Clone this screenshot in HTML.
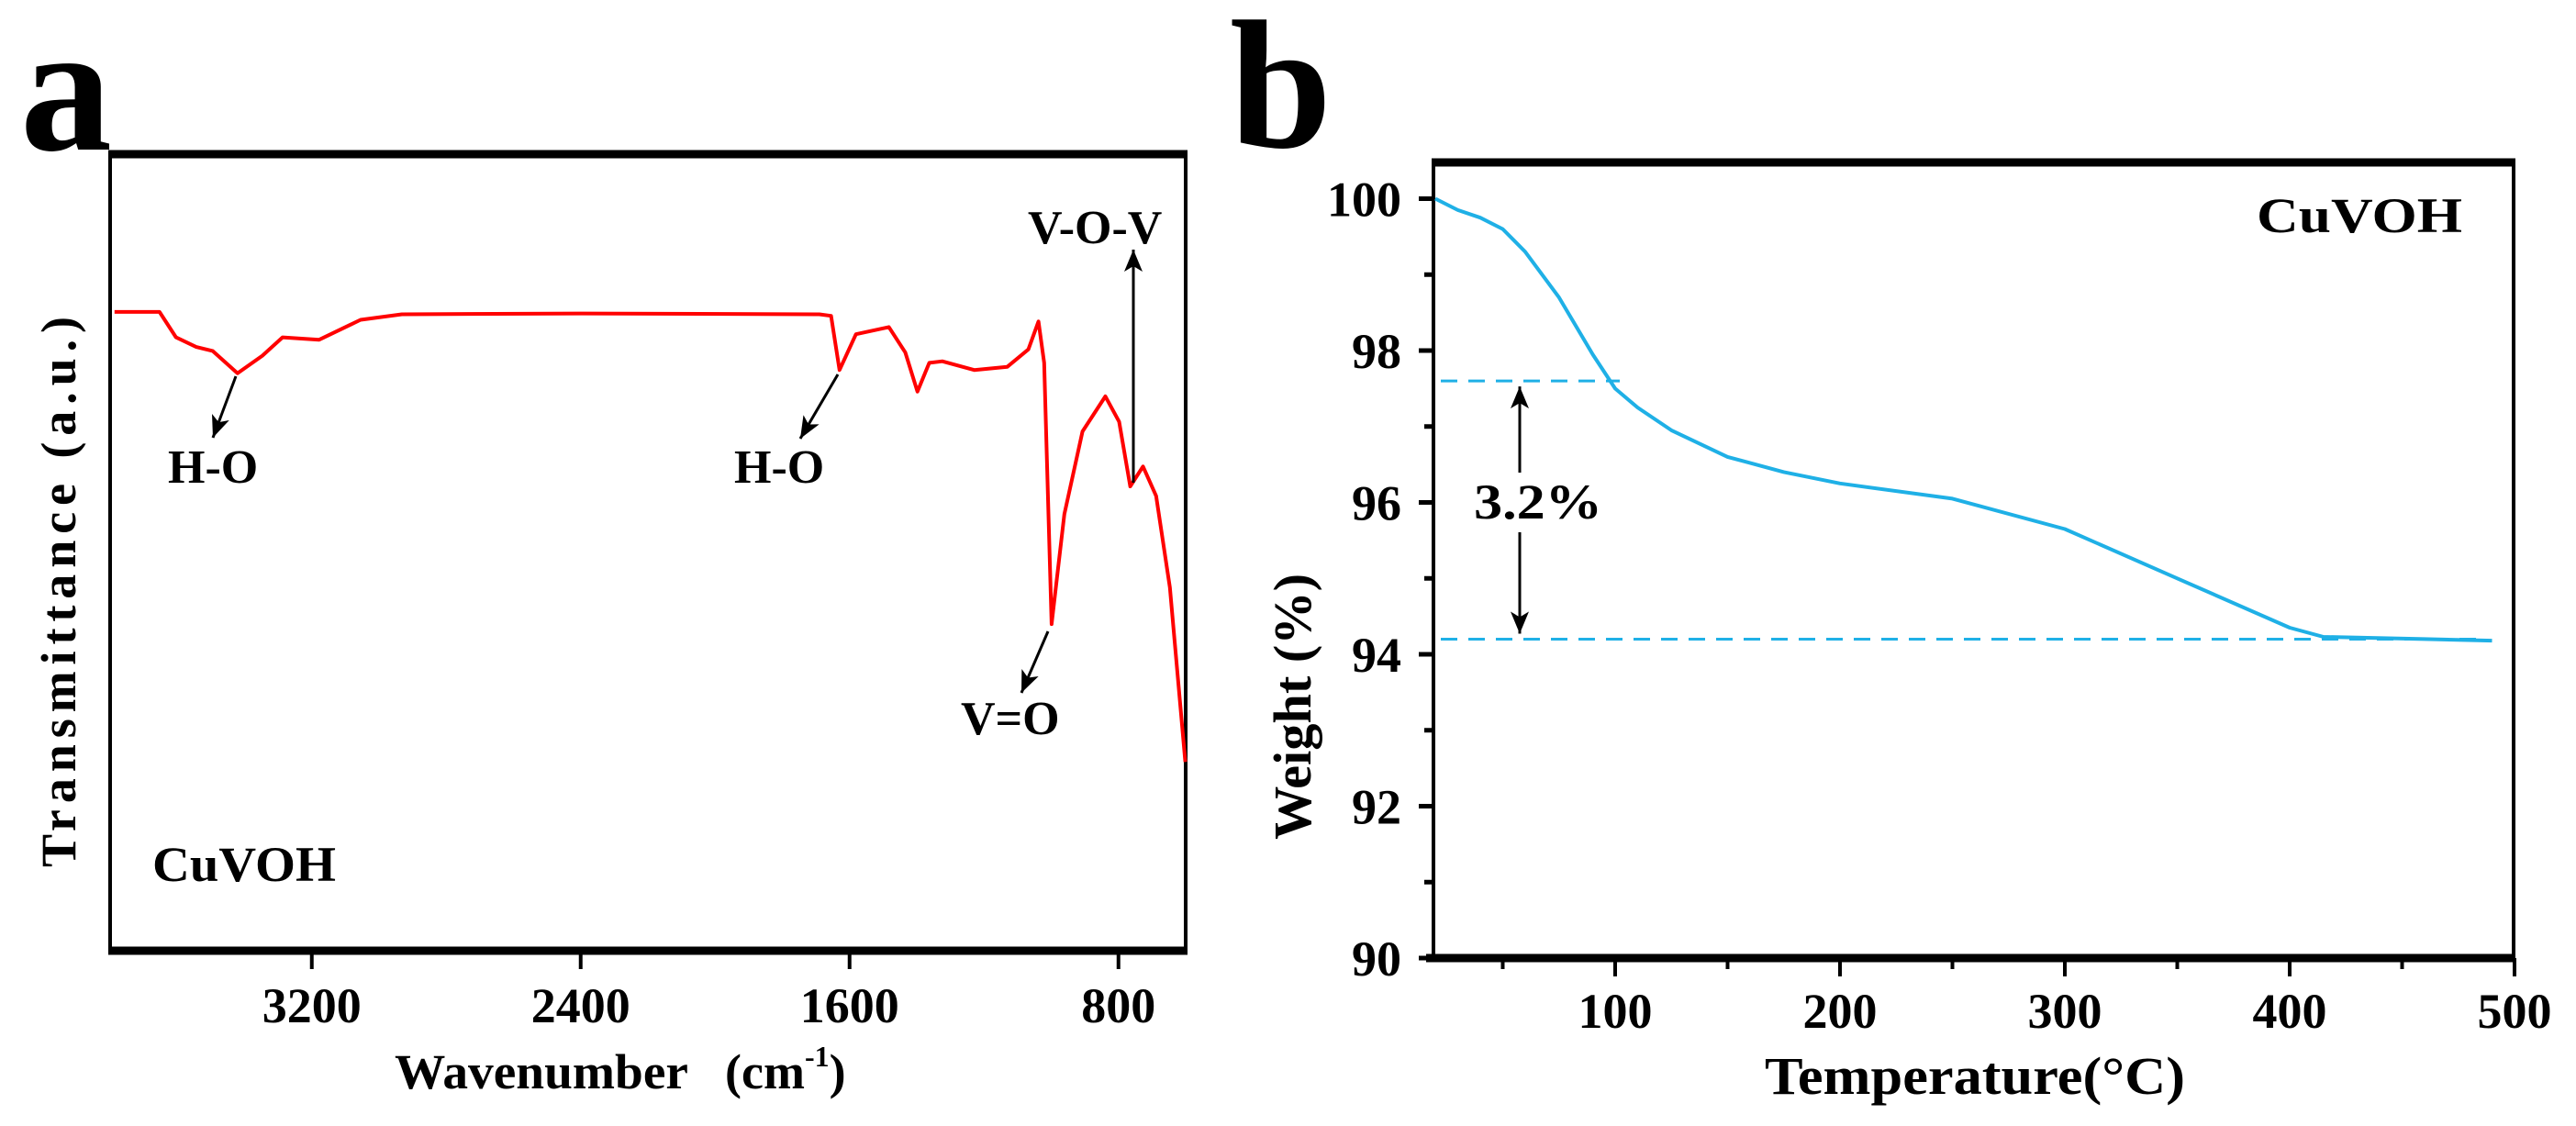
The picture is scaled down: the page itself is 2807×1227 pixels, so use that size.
<!DOCTYPE html>
<html><head><meta charset="utf-8"><style>
html,body{margin:0;padding:0;background:#fff}
svg{display:block}
text{font-family:"Liberation Serif",serif;font-weight:bold;fill:#000}
</style></head><body>
<svg id="fig" width="2807" height="1227" viewBox="0 0 2807 1227" xmlns="http://www.w3.org/2000/svg">
<defs>
<marker id="ahb" markerWidth="24" markerHeight="40" refX="24" refY="10" orient="auto" markerUnits="userSpaceOnUse"><path d="M0,0 L24,10 L0,20 L6,10 z" fill="#000"/></marker>
</defs>
<g id="pa"></g>
<g id="pb"></g>
</svg>
<script>
// Panel a (FTIR)
const irWavenumbers=[3787,3653,3604,3544,3495,3421,3347,3287,3178,3055,2932,2400,1690,1655,1630,1581,1483,1434,1398,1363,1324,1229,1131,1068,1038,1021,999,961,907,839,798,765,727,688,647,601];
const irTransmittance=[80.2,80.2,77.0,75.8,75.3,72.5,74.7,77.0,76.7,79.2,79.9,80.0,79.9,79.7,72.9,77.4,78.3,75.1,70.2,73.8,74.0,72.9,73.3,75.5,79.0,73.8,41.0,54.8,65.2,69.6,66.4,58.3,60.8,57.1,45.6,23.7];
const irTicks=[3200,2400,1600,800];
// Panel b (TGA)
const tgaTemps=[20,30,40,50,60,75,90,100,110,125,150,175,200,250,300,350,400,415,430,460,490];
const tgaWeights=[100,99.85,99.75,99.6,99.3,98.7,97.95,97.5,97.25,96.95,96.6,96.4,96.25,96.05,95.65,95.0,94.35,94.23,94.22,94.2,94.18];
const tgaXTicks=[100,200,300,400,500];
const tgaYTicks=[90,92,94,96,98,100];
const lossLevels=[97.6,94.2];

const NS='http://www.w3.org/2000/svg';
function mk(parent,tag,attrs,txt){const e=document.createElementNS(NS,tag);for(const k in attrs)e.setAttribute(k,attrs[k]);if(txt!==undefined)e.textContent=txt;parent.appendChild(e);return e;}

// ---- Panel A ----
const pa=document.getElementById('pa');
const ax={l:120,r:1292,t:168,b:1036};
const xa=w=>ax.l+(3800-w)/(3800-600)*(ax.r-ax.l);
const ya=v=>ax.b-v/100*(ax.b-ax.t);
let t;
t=mk(pa,'text',{x:22,y:163,'font-size':200});t.textContent='a';


let r=mk(pa,'rect',{x:ax.l,y:ax.t,width:ax.r-ax.l,height:ax.b-ax.t,fill:'none',stroke:'#000','stroke-width':4});


let l=mk(pa,'line',{x1:ax.l-2,x2:ax.r+2,y1:ax.t,y2:ax.t,stroke:'#000','stroke-width':9});


l=mk(pa,'line',{x1:ax.l-2,x2:ax.r+2,y1:ax.b,y2:ax.b,stroke:'#000','stroke-width':9});


irTicks.forEach(w=>{
  const x=xa(w);
  const tk=mk(pa,'line',{x1:x,x2:x,y1:ax.b,y2:ax.b+20,stroke:'#000','stroke-width':4});
  
  
  const tl=mk(pa,'text',{x:x,y:1114,'font-size':54,'text-anchor':'middle'},String(w));
  
  
});
t=mk(pa,'text',{x:430,y:1186,'font-size':54,textLength:320,lengthAdjust:'spacingAndGlyphs'},'Wavenumber');


t=mk(pa,'text',{x:790,y:1186,'font-size':54});
t.innerHTML='(cm<tspan font-size="32" dy="-24">-1</tspan><tspan dy="24">)</tspan>';


t=mk(pa,'text',{x:0,y:0,'font-size':54,transform:'translate(82,645) rotate(-90)','text-anchor':'middle',textLength:600,lengthAdjust:'spacing'},'Transmittance (a.u.)');


let d=irWavenumbers.map((w,i)=>(i?'L':'M')+xa(w).toFixed(1)+','+ya(irTransmittance[i]).toFixed(1)).join(' ');
let p=mk(pa,'path',{d:d,fill:'none',stroke:'#ff0000','stroke-width':4,'stroke-linejoin':'round'});


t=mk(pa,'text',{x:166,y:960,'font-size':54,textLength:200,lengthAdjust:'spacingAndGlyphs'},'CuVOH');


function arrow(parent,x1,y1,x2,y2,name){const a=mk(parent,'line',{x1:x1,y1:y1,x2:x2,y2:y2,stroke:'#000','stroke-width':3,'marker-end':'url(#ahb)'});return a;}
arrow(pa,257,410,232,477,'arrow-h-o-1');
t=mk(pa,'text',{x:183,y:526,'font-size':52},'H-O');


arrow(pa,913,408,872,478,'arrow-h-o-2');
t=mk(pa,'text',{x:800,y:526,'font-size':52},'H-O');


arrow(pa,1142,688,1113,755,'arrow-v-o');
t=mk(pa,'text',{x:1047,y:800,'font-size':52},'V=O');


arrow(pa,1235,526,1235,272,'arrow-v-o-v');
t=mk(pa,'text',{x:1120,y:265,'font-size':52},'V-O-V');



// ---- Panel B ----
const pb=document.getElementById('pb');
const bx={l:1562,r:2739,t:177,b:1044};
const xb=T=>1515+T*2.45;
const yb=w=>1044-(w-90)*82.75;
t=mk(pb,'text',{x:1340,y:160,'font-size':200},'b');


r=mk(pb,'rect',{x:bx.l,y:bx.t,width:bx.r-bx.l,height:bx.b-bx.t,fill:'none',stroke:'#000','stroke-width':4});


l=mk(pb,'line',{x1:bx.l-2,x2:bx.r+2,y1:bx.t,y2:bx.t,stroke:'#000','stroke-width':9});


l=mk(pb,'line',{x1:bx.l-8,x2:bx.r+2,y1:bx.b,y2:bx.b,stroke:'#000','stroke-width':9});


for(let T=50;T<=500;T+=50){
  const x=xb(T);const maj=T%100===0;
  const tk=mk(pb,'line',{x1:x,x2:x,y1:bx.b,y2:bx.b+(maj?20:12),stroke:'#000','stroke-width':4});
  
  
}
tgaXTicks.forEach(T=>{
  const tl=mk(pb,'text',{x:xb(T),y:1120,'font-size':54,'text-anchor':'middle'},String(T));
  
  
});
for(let w=90;w<=100;w+=1){
  const y=yb(w);const maj=w%2===0;
  const tk=mk(pb,'line',{x1:bx.l-(maj?16:10),x2:bx.l,y1:y,y2:y,stroke:'#000','stroke-width':5});
  
  
}
tgaYTicks.forEach(w=>{
  const tl=mk(pb,'text',{x:1527,y:yb(w)+19,'font-size':54,'text-anchor':'end'},String(w));
  
  
});
t=mk(pb,'text',{x:2152,y:1192,'font-size':58,'text-anchor':'middle',textLength:458,lengthAdjust:'spacingAndGlyphs'},'Temperature(°C)');


t=mk(pb,'text',{x:0,y:0,'font-size':58,transform:'translate(1428,770) rotate(-90)','text-anchor':'middle',textLength:290,lengthAdjust:'spacingAndGlyphs'},'Weight (%)');


lossLevels.forEach((w,i)=>{
  const dl=mk(pb,'line',{x1:1570,x2:i?2700:1765,y1:yb(w),y2:yb(w),stroke:'#1fb0e6','stroke-width':3,'stroke-dasharray':'18,12'});
  
  
});
d=tgaTemps.map((T,i)=>(i?'L':'M')+xb(T).toFixed(1)+','+yb(tgaWeights[i]).toFixed(1)).join(' ');
p=mk(pb,'path',{d:d,fill:'none',stroke:'#1fb0e6','stroke-width':4,'stroke-linejoin':'round'});


arrow(pb,1656,515,1656,yb(lossLevels[0])+6,'arrow-loss-up');
arrow(pb,1656,580,1656,yb(lossLevels[1])-6,'arrow-loss-down');
t=mk(pb,'text',{x:1606,y:565,'font-size':54,textLength:140,lengthAdjust:'spacingAndGlyphs'},'3.2%');


t=mk(pb,'text',{x:2459,y:253,'font-size':54,textLength:224,lengthAdjust:'spacingAndGlyphs'},'CuVOH');


</script>
</body></html>
